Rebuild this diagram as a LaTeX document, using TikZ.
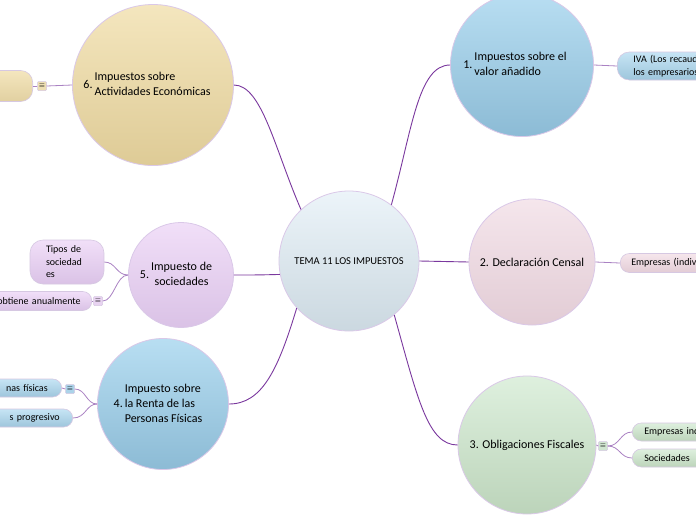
\documentclass[tikz,border=0pt]{standalone}
\usepackage{fontspec}
\setmainfont{Carlito}
\definecolor{bord}{RGB}{218,200,232}
\definecolor{conn}{RGB}{122,56,158}
\definecolor{lconn}{RGB}{170,130,195}
\definecolor{ctop}{RGB}{236,244,249}
\definecolor{cbot}{RGB}{203,216,224}
\definecolor{btop}{RGB}{184,222,242}
\definecolor{bbot}{RGB}{140,187,213}
\definecolor{ttop}{RGB}{244,230,190}
\definecolor{tbot}{RGB}{222,203,150}
\definecolor{ltop}{RGB}{241,223,248}
\definecolor{lbot}{RGB}{218,194,230}
\definecolor{ptop}{RGB}{245,230,236}
\definecolor{pbot}{RGB}{226,204,213}
\definecolor{gtop}{RGB}{222,240,222}
\definecolor{gbot}{RGB}{188,212,186}
\definecolor{leafbord}{RGB}{214,200,226}
\tikzset{
  bubble/.style={circle, draw=bord, line width=0.8pt, inner sep=0pt, font=\fontsize{12}{15}\selectfont},
  leafbox/.style={rectangle, rounded corners=9pt, draw=leafbord, line width=0.6pt, font=\fontsize{10}{12.5}\selectfont, inner ysep=0pt},
  iconbox/.style={rectangle, rounded corners=1pt, draw=leafbord, line width=0.5pt, minimum size=9pt, inner sep=0pt, font=\fontsize{7}{7}\selectfont},
  mainconn/.style={draw=conn, line width=0.9pt},
  leafconn/.style={draw=lconn, line width=0.8pt},
  blueshade/.style={top color=btop, bottom color=bbot},
  tanshade/.style={top color=ttop, bottom color=tbot},
  lavshade/.style={top color=ltop, bottom color=lbot},
  pinkshade/.style={top color=ptop, bottom color=pbot},
  greenshade/.style={top color=gtop, bottom color=gbot},
  blueleaf/.style={top color=btop!80!white, bottom color=bbot!85!white},
  tanleaf/.style={top color=ttop, bottom color=tbot!90!white},
  lavleaf/.style={top color=ltop, bottom color=lbot},
  pinkleaf/.style={top color=ptop, bottom color=pbot},
  greenleaf/.style={top color=gtop, bottom color=gbot},
}
\begin{document}
\begin{tikzpicture}[x=1pt,y=-1pt]
\useasboundingbox (0,0) rectangle (696,520);
\clip (0,0) rectangle (696,520);
\fill[white] (0,0) rectangle (696,520);

% main bubbles
\node[bubble, top color=ctop, bottom color=cbot, minimum size=140pt, font=\fontsize{10.5}{12}\selectfont] (c) at (349,261) {TEMA 11 LOS IMPUESTOS};
\node[bubble, blueshade, minimum size=143pt] (n1) at (522,65)
  {\begin{tabular}{@{}l@{\hspace{2pt}}l@{}}1.&\begin{tabular}{@{}l@{}}Impuestos sobre el\\valor añadido\end{tabular}\end{tabular}\hspace*{14pt}};
\node[bubble, pinkshade, minimum size=126pt] (n2) at (532,262) {2. Declaración Censal};
\node[bubble, greenshade, minimum size=138pt] (n3) at (527,445) {3. Obligaciones Fiscales};
\node[bubble, blueshade, minimum size=131pt] (n4) at (163,404)
  {\begin{tabular}{@{}l@{\hspace{2pt}}l@{}}&Impuesto sobre\\4.&la Renta de las\\&Personas Físicas\end{tabular}\hspace*{10pt}};
\node[bubble, lavshade, minimum size=105pt] (n5) at (181,275)
  {\begin{tabular}{@{}l@{\hspace{2pt}}l@{}}5.&\begin{tabular}{@{}c@{}}Impuesto de\\sociedades\end{tabular}\end{tabular}\hspace*{10pt}};
\node[bubble, tanshade, minimum size=161pt] (n6) at (153,85)
  {\begin{tabular}{@{}l@{\hspace{2pt}}l@{}}6.&\begin{tabular}{@{}l@{}}Impuestos sobre\\Actividades Económicas\end{tabular}\end{tabular}\hspace*{12pt}};

% main connectors
\draw[mainconn] (c.133) .. controls (275,150) and (262,85) .. (n6.east);
\draw[mainconn] (c.53) .. controls (412,130) and (418,65) .. (n1.west);
\draw[mainconn] (c.191) .. controls (258,275) and (255,275) .. (n5.east);
\draw[mainconn] (c.222) .. controls (278,370) and (262,404) .. (n4.east);
\draw[mainconn] (c.310) .. controls (418,400) and (428,445) .. (n3.west);
\draw[mainconn] (c.east) -- (n2.west);

% leaves of 6
\node[leafbox, tanleaf, rounded corners=12pt, minimum width=100pt, minimum height=31pt, anchor=east] (t1) at (33,86) {};
\node[iconbox, fill=ttop!70!tbot] (i6) at (42,86) {$\equiv$};
\draw[leafconn] (n6.west) -- (i6.east);
\draw[leafconn] (i6.west) -- (t1.east);

% leaves of 5
\node[leafbox, lavleaf, rounded corners=13pt, minimum width=74pt, minimum height=44pt, text width=42pt, inner xsep=16pt, align=left] (l1) at (67,262) {Tipos de\\sociedad\\es};
\node[leafbox, lavleaf, minimum height=19pt, text width=100pt, inner xsep=11pt, align=right, anchor=east] (l2) at (92,301) {obtiene anualmente};
\node[iconbox, fill=ltop!60!lbot] (i5) at (98,301) {$\equiv$};
\draw[leafconn] (n5.west) .. controls (116,275) and (116,262) .. (l1.east);
\draw[leafconn] (n5.west) .. controls (116,275) and (114,301) .. (i5.east);
\draw[leafconn] (i5.west) -- (l2.east);

% leaves of 4
\node[leafbox, blueleaf, minimum height=18pt, text width=100pt, inner xsep=14pt, align=right, anchor=east] (b1) at (62,388) {nas físicas};
\node[iconbox, fill=btop!70!bbot] (i4) at (70,389) {$\equiv$};
\node[leafbox, blueleaf, minimum height=18pt, text width=100pt, inner xsep=13pt, align=right, anchor=east] (b2) at (73,418) {s progresivo};
\draw[leafconn] (n4.west) .. controls (86,404) and (86,389) .. (i4.east);
\draw[leafconn] (i4.west) -- (b1.east);
\draw[leafconn] (n4.west) .. controls (86,404) and (86,418) .. (b2.east);

% leaf of 1
\node[leafbox, blueleaf, rounded corners=12pt, minimum height=28pt, text width=100pt, inner xsep=16pt, align=left, anchor=west] (r1) at (617,66) {IVA (Los recaud\\los empresarios};
\draw[leafconn] (n1.east) -- (r1.west);

% leaf of 2
\node[leafbox, pinkleaf, minimum height=19pt, text width=100pt, inner xsep=11pt, align=left, anchor=west] (r2) at (620,263) {Empresas (indiv};
\draw[leafconn] (n2.east) -- (r2.west);

% leaves of 3
\node[iconbox, fill=gtop!60!gbot] (i3) at (603,446) {$\equiv$};
\node[leafbox, greenleaf, minimum height=18pt, text width=100pt, inner xsep=12pt, align=left, anchor=west] (g1) at (632,432) {Empresas ind};
\node[leafbox, greenleaf, minimum height=18pt, text width=100pt, inner xsep=12pt, align=left, anchor=west] (g2) at (632,458) {Sociedades};
\draw[leafconn] (n3.east) -- (i3.west);
\draw[leafconn] (i3.east) .. controls (620,446) and (620,432) .. (g1.west);
\draw[leafconn] (i3.east) .. controls (620,446) and (620,458) .. (g2.west);
\end{tikzpicture}
\end{document}
